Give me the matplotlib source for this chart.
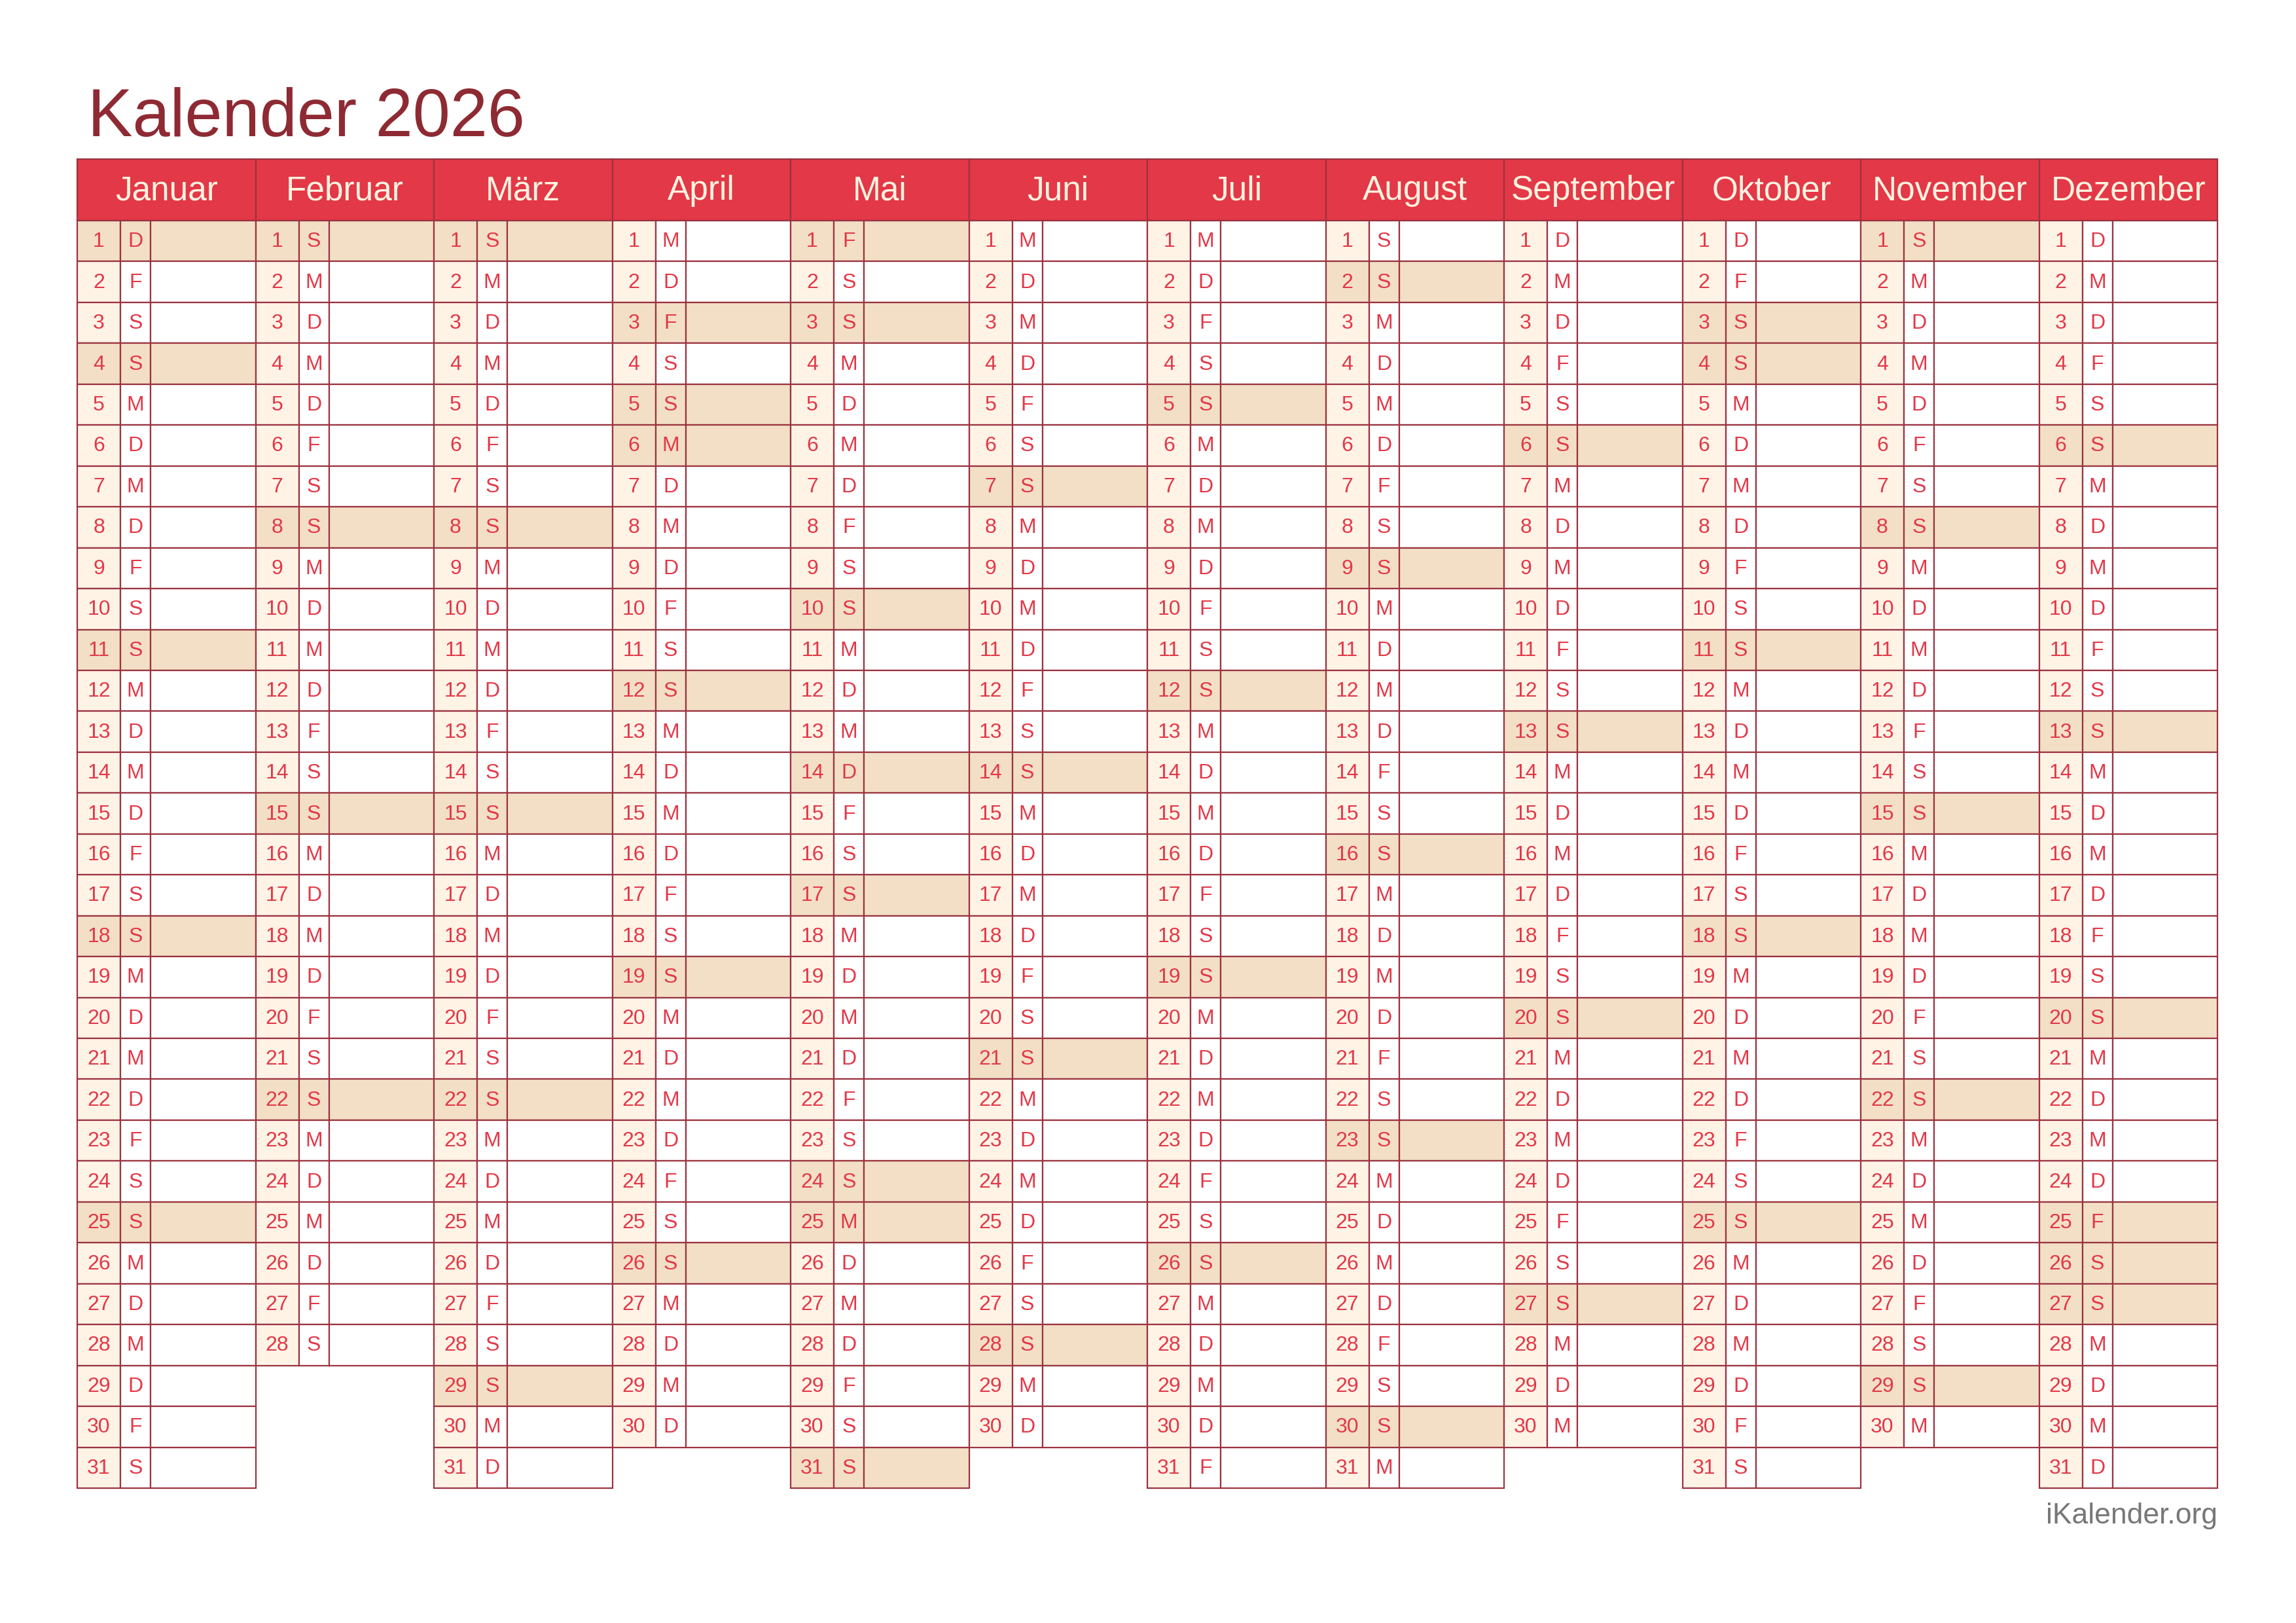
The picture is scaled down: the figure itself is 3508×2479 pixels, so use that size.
import datetime as dt

import matplotlib

matplotlib.use("Agg")
import matplotlib.pyplot as plt
from matplotlib.patches import Rectangle

YEAR = 2026
MONTHS = ["Januar", "Februar", "März", "April", "Mai", "Juni",
          "Juli", "August", "September", "Oktober", "November", "Dezember"]
WEEKDAYS = ["M", "D", "M", "D", "F", "S", "S"]
# public holidays shaded like Sundays (month, day)
HOLIDAYS = [(1, 1), (4, 3), (4, 6), (5, 1), (5, 14), (5, 25), (10, 3), (12, 25), (12, 26)]

RED = "#E33847"
DARK = "#8E2A33"
LINE = "#9B3340"
PEACH = "#FFF3E6"
TAN = "#F2DFC6"
CREAM = "#FFF3E0"

W, H = 3508, 2479
LEFT, RIGHT = 118, 3388
HEAD_TOP, HEAD_BOT = 243, 337
ROW_H = (2273 - HEAD_BOT) / 31
COL_W = (RIGHT - LEFT) / 12
NUM_W, DAY_W = 66, 46
FONT = "Liberation Sans"

fig = plt.figure(figsize=(W / 100, H / 100), dpi=100)
ax = fig.add_axes([0, 0, 1, 1])
ax.set_xlim(0, W)
ax.set_ylim(H, 0)
ax.axis("off")

ax.text(134, 208, f"Kalender {YEAR}", fontsize=74, color=DARK, family=FONT, va="baseline")

lw = 1.6
for m, name in enumerate(MONTHS):
    x0 = LEFT + m * COL_W
    ax.add_patch(Rectangle((x0, HEAD_TOP), COL_W, HEAD_BOT - HEAD_TOP,
                           facecolor=RED, edgecolor=LINE, lw=lw))
    ax.text(x0 + COL_W / 2, (HEAD_TOP + HEAD_BOT) / 2 + 2, name, fontsize=37,
            color=CREAM, family=FONT, ha="center", va="center")
    d = dt.date(YEAR, m + 1, 1)
    while d.month == m + 1:
        y0 = HEAD_BOT + (d.day - 1) * ROW_H
        wd = d.weekday()
        shaded = wd == 6 or (d.month, d.day) in HOLIDAYS
        fill = TAN if shaded else "white"
        ax.add_patch(Rectangle((x0, y0), NUM_W, ROW_H, facecolor=TAN if shaded else PEACH,
                               edgecolor=LINE, lw=lw))
        ax.add_patch(Rectangle((x0 + NUM_W, y0), DAY_W, ROW_H, facecolor=fill,
                               edgecolor=LINE, lw=lw))
        ax.add_patch(Rectangle((x0 + NUM_W + DAY_W, y0), COL_W - NUM_W - DAY_W, ROW_H,
                               facecolor=fill, edgecolor=LINE, lw=lw))
        yc = y0 + ROW_H / 2 + 1
        ax.text(x0 + NUM_W / 2, yc, str(d.day), fontsize=23, color=RED, family=FONT,
                ha="center", va="center")
        ax.text(x0 + NUM_W + DAY_W / 2, yc, WEEKDAYS[wd], fontsize=23, color=RED,
                family=FONT, ha="center", va="center")
        d += dt.timedelta(days=1)

ax.text(RIGHT, 2327, "iKalender.org", fontsize=32, color="#777777", family=FONT,
        ha="right", va="baseline")

fig.savefig("out.png", dpi=100)
